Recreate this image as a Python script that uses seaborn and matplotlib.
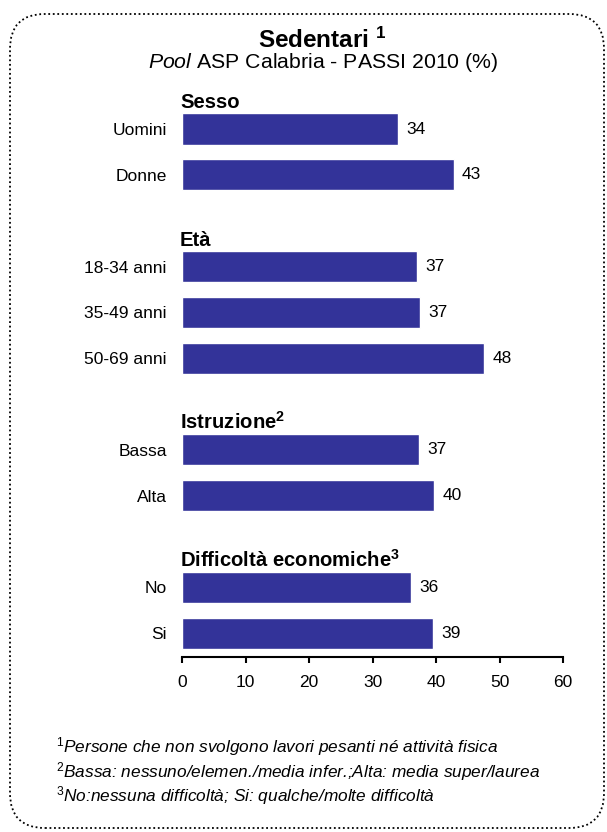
import matplotlib
matplotlib.use("Agg")
import matplotlib.pyplot as plt
import seaborn as sns
import pandas as pd
from matplotlib.patches import FancyBboxPatch

# ---- data ----
categories = ["Uomini", "Donne", "18-34 anni", "35-49 anni", "50-69 anni",
              "Bassa", "Alta", "No", "Si"]
values = [34.0, 42.8, 37.0, 37.5, 47.6, 37.3, 39.7, 36.1, 39.5]
value_labels = ["34", "43", "37", "37", "48", "37", "40", "36", "39"]
group_headers = ["Sesso", "Età", r"Istruzione$^\mathbf{2}$",
                 r"Difficoltà economiche$^\mathbf{3}$"]
x_ticks = [0, 10, 20, 30, 40, 50, 60]
title = r"Sedentari $^\mathbf{1}$"
subtitle = r"$\mathit{Pool}$ ASP Calabria - PASSI 2010 (%)"
footnotes = [
    ("1", "Persone che non svolgono lavori pesanti né attività fisica"),
    ("2", "Bassa: nessuno/elemen./media infer.;Alta: media super/laurea"),
    ("3", "No:nessuna difficoltà; Si: qualche/molte difficoltà"),
]

# layout of rows (blank slots separate the groups)
order = ["Uomini", "Donne", "_g1", "18-34 anni", "35-49 anni", "50-69 anni",
         "_g2", "Bassa", "Alta", "_g3", "No", "Si"]
header_slots = [0, 3, 7, 10]

sns.set_style("white")
plt.rcParams["font.family"] = ["Liberation Sans", "DejaVu Sans"]
plt.rcParams["mathtext.fontset"] = "custom"
plt.rcParams["mathtext.rm"] = "Liberation Sans"
plt.rcParams["mathtext.bf"] = "Liberation Sans:bold"
plt.rcParams["mathtext.it"] = "Liberation Sans:italic"
plt.rcParams["text.color"] = "black"
plt.rcParams["xtick.color"] = "black"
plt.rcParams["ytick.color"] = "black"
plt.rcParams["axes.labelcolor"] = "black"

df = pd.DataFrame({"cat": categories, "val": values})

W, H = 607, 832
fig = plt.figure(figsize=(W / 100, H / 100), dpi=100)

ax_left, ax_right = 182 / W, 563 / W
ax_bottom = (H - 657) / H
ax_top = (H - 83.2) / H
ax = fig.add_axes([ax_left, ax_bottom, ax_right - ax_left, ax_top - ax_bottom])

sns.barplot(data=df, y="cat", x="val", order=order, orient="h",
            color="#333399", saturation=1, width=0.68, ax=ax)

ax.set_xlim(0, 60)
ax.set_ylim(11.52, -1.0)
ax.set_xticks(x_ticks)
ax.set_xticklabels([str(t) for t in x_ticks], fontsize=12.5)
ax.set_yticks([order.index(c) for c in categories])
ax.set_yticklabels(categories, fontsize=12.5)
ax.set_xlabel("")
ax.set_ylabel("")
for s in ["top", "right", "left"]:
    ax.spines[s].set_visible(False)
ax.spines["bottom"].set_color("black")
ax.spines["bottom"].set_linewidth(1.5)
ax.tick_params(axis="x", direction="out", length=4, width=1.5, colors="black",
               pad=9, bottom=True)
ax.tick_params(axis="y", length=0, pad=11, colors="black")

# value labels
ax.bar_label(ax.containers[0], labels=value_labels, padding=6, fontsize=12.5,
             color="black")

# group headers
for slot, txt in zip(header_slots, group_headers):
    ax.text(-0.3, slot - 0.37, txt, ha="left", va="bottom", fontsize=14.6,
            fontweight="bold", color="black")

# title
fig.text(322 / W, (H - 40) / H, title, ha="center", va="center",
         fontsize=17.5, fontweight="bold")
fig.text(323 / W, (H - 63) / H, subtitle, ha="center", va="center",
         fontsize=15.3)

# footnotes
for i, (num, txt) in enumerate(footnotes):
    y = (H - (747 + 24.5 * i)) / H
    fig.text(56 / W, y, r"$\mathit{^{%s}}$" % num + txt, ha="left",
             va="center", fontsize=12.4, style="italic")

# dotted rounded border
box = FancyBboxPatch((0.10, 0.04), 5.94, 8.14,
                     boxstyle="round,pad=0,rounding_size=0.35",
                     transform=fig.dpi_scale_trans, fill=False,
                     linestyle=(0, (1, 1.5)), linewidth=1.3, edgecolor="black")
fig.patches.append(box)

fig.savefig("out.png", dpi=100)
